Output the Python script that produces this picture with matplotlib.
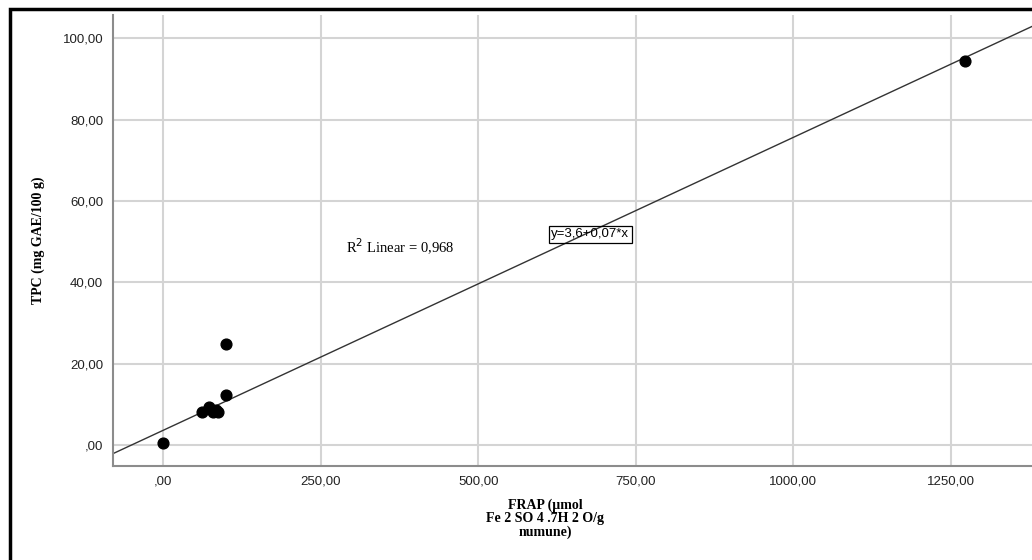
import numpy as np
import matplotlib.pyplot as plt
from matplotlib.patches import Rectangle

# FRAP vs TPC samples
frap = [0, 62, 72, 79, 84, 86, 99, 99, 1273]
tpc = [0.5, 8.2, 9.4, 8.1, 8.6, 8.2, 12.3, 24.8, 94.5]

# fitted line, as reported
intercept = 3.6
slope = 0.072
r2 = 0.968

xticks = [0, 250, 500, 750, 1000, 1250]
yticks = [0, 20, 40, 60, 80, 100]


def comma(v, nd=2):
    return f"{v:.{nd}f}".replace(".", ",")


def tick_fmt(v):
    # SPSS style: zero printed as ",00"
    return ",00" if v == 0 else comma(v)


fig = plt.figure(figsize=(10.32, 5.6), dpi=100)
ax = fig.add_axes([113 / 1032, 1 - 466 / 560, 1 - 113 / 1032, (466 - 15) / 560])

ax.set_xlim(-80, 1379)
ax.set_ylim(-5.2, 105.7)

ax.set_xticks(xticks)
ax.set_yticks(yticks)
ax.set_xticklabels([tick_fmt(v) for v in xticks])
ax.set_yticklabels([tick_fmt(v) for v in yticks])
ax.tick_params(length=0, labelsize=9.5, colors="#222222")
ax.tick_params(axis="y", pad=7)
ax.tick_params(axis="x", pad=7)
for lab in ax.get_xticklabels() + ax.get_yticklabels():
    lab.set_family("Liberation Sans")

ax.grid(True, color="#d4d4d4", lw=1.5)
ax.set_axisbelow(True)
for side in ["top", "right"]:
    ax.spines[side].set_visible(False)
for side in ["left", "bottom"]:
    ax.spines[side].set_color("#8c8c8c")
    ax.spines[side].set_linewidth(1.5)

xs = np.array(ax.get_xlim())
ax.plot(xs, intercept + slope * xs, color="#333333", lw=1.0, zorder=2)
ax.scatter(frap, tpc, s=60, color="black", zorder=3)

ax.text(376, 48.6, "R$^2$ Linear = " + comma(r2, 3),
        family="Liberation Serif", fontsize=10.5, ha="center", va="center")
ax.text(678, 51.8, f"y={comma(intercept, 1)}+{comma(slope, 2)}*x",
        family="Liberation Sans", fontsize=9.5, ha="center", va="center",
        bbox=dict(boxstyle="square,pad=0.2", fc="none", ec="black", lw=0.9))

ax.set_ylabel("TPC (mg GAE/100 g)", family="Liberation Serif", weight="bold",
              fontsize=10)
ax.yaxis.set_label_coords((45 - 113) / (1032 - 113), 0.5)
ax.set_xlabel("FRAP (µmol\nFe 2 SO 4 .7H 2 O/g\nnumune)", family="Liberation Serif",
              weight="bold", fontsize=10, linespacing=1.0)
ax.xaxis.set_label_coords((545 - 113) / (1032 - 113), (466 - 499) / (466 - 15))

# outer frame
fig.patches.append(Rectangle((9.5 / 1032, -0.1), 1.2, 1 - 9 / 560 + 0.1,
                             transform=fig.transFigure, fill=False,
                             ec="black", lw=2.5, zorder=10))

fig.savefig("out.png", dpi=100)
